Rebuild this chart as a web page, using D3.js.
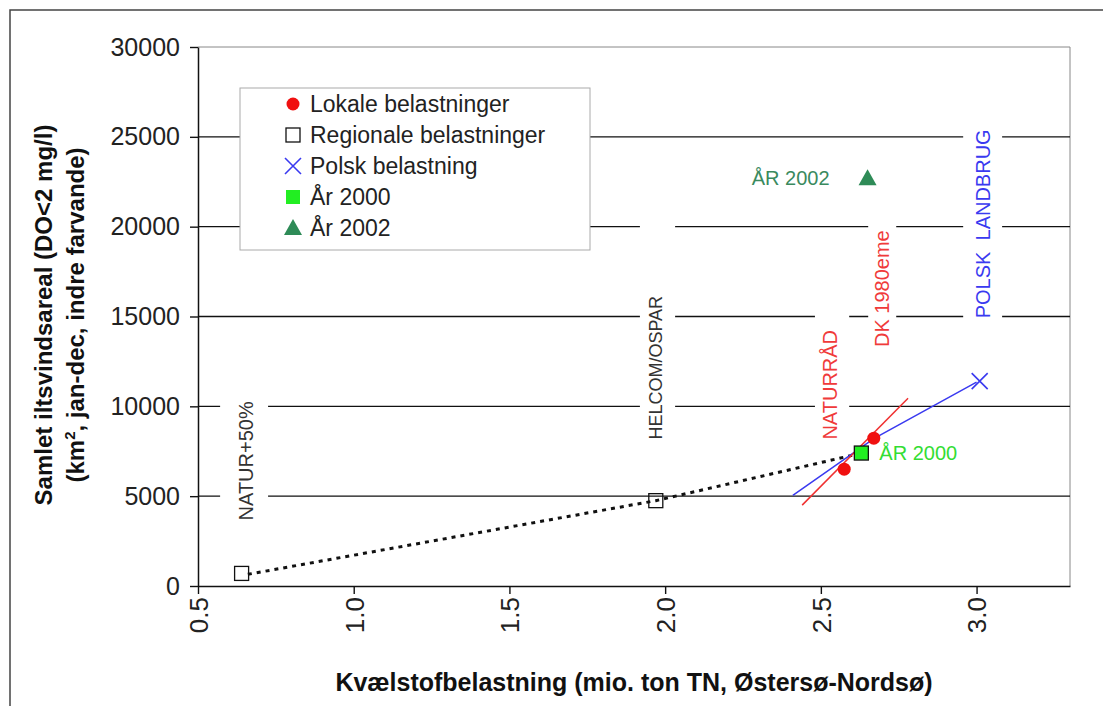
<!DOCTYPE html>
<html>
<head>
<meta charset="utf-8">
<script src="https://cdn.jsdelivr.net/npm/d3@7"></script>
<style>
  body { margin: 0; background: #fff; }
  text { font-family: Arial, "Liberation Sans", sans-serif; }
</style>
</head>
<body>
<div class="chart-container"></div>
<script>
// Chart data
var xTicks = [0.5, 1.0, 1.5, 2.0, 2.5, 3.0];
var yTicks = [0, 5000, 10000, 15000, 20000, 25000, 30000];
var gridValues = [5000, 10000, 15000, 20000, 25000];

var lokaleX = [2.575, 2.67];
var lokaleY = [6500, 8230];
var lokaleLineX = [2.44, 2.78];
var lokaleLineY = [4500, 10450];

var regionalX = [0.64, 1.97];
var regionalY = [700, 4750];
var regionalLineX = [0.66, 1.97, 2.62];
var regionalLineY = [650, 4750, 7350];

var polskX = [3.01];
var polskY = [11400];
var polskLineX = [2.41, 2.67, 3.0];
var polskLineY = [5050, 8200, 11350];

var aar2000X = [2.63];
var aar2000Y = [7400];
var aar2002X = [2.65];
var aar2002Y = [22700];

var legendLabels = ["Lokale belastninger", "Regionale belastninger", "Polsk belastning", "År 2000", "År 2002"];

// Vertical labels with white boxes (data coordinates)
var noteTexts = ["NATUR+50%", "HELCOM/OSPAR", "NATURRÅD", "DK 1980eme", "POLSK  LANDBRUG"];
var noteX = [0.655, 1.968, 2.53, 2.697, 3.021];
var noteY = [3650, 8150, 8150, 13300, 14900];
var boxX0 = [0.571, 1.919, 2.481, 2.652, 2.957];
var boxX1 = [0.725, 2.032, 2.591, 2.742, 3.082];
var boxY0 = [3100, 7600, 7600, 12600, 14250];
var boxY1 = [10800, 21500, 15900, 20900, 26200];
var noteColors = ["#333333", "#333333", "#f03a3a", "#f03a3a", "#3a3af0"];

// Dimensions
var width = 1103;
var height = 706;
var plot = { left: 198, top: 47, right: 1070, bottom: 586 };

var svg = d3.select(".chart-container")
  .append("svg")
  .attr("width", width)
  .attr("height", height);

// Outer frame
svg.append("path")
  .attr("d", "M10," + height + "V10H" + width)
  .attr("fill", "none")
  .attr("stroke", "#444")
  .attr("stroke-width", 1.5);

// Scales
var x = d3.scaleLinear().domain([0.5, 3.3]).range([plot.left, plot.right]);
var y = d3.scaleLinear().domain([0, 30000]).range([plot.bottom, plot.top]);

// Plot border (top and right)
svg.append("path")
  .attr("d", "M" + plot.left + "," + plot.top + "H" + plot.right + "V" + plot.bottom)
  .attr("fill", "none")
  .attr("stroke", "#888")
  .attr("stroke-width", 1);

// Gridlines
svg.selectAll(".grid")
  .data(gridValues)
  .enter().append("line")
  .attr("class", "grid")
  .attr("x1", plot.left)
  .attr("x2", plot.right)
  .attr("y1", function (d) { return y(d); })
  .attr("y2", function (d) { return y(d); })
  .attr("stroke", "#111")
  .attr("stroke-width", 1.4);

// Note boxes and vertical texts
var notes = noteTexts.map(function (t, i) { return { text: t, i: i }; });

svg.selectAll(".notebox")
  .data(notes)
  .enter().append("rect")
  .attr("class", "notebox")
  .attr("x", function (d) { return x(boxX0[d.i]); })
  .attr("width", function (d) { return x(boxX1[d.i]) - x(boxX0[d.i]); })
  .attr("y", function (d) { return y(boxY1[d.i]); })
  .attr("height", function (d) { return y(boxY0[d.i]) - y(boxY1[d.i]); })
  .attr("fill", "#fff");

svg.selectAll(".note")
  .data(notes)
  .enter().append("text")
  .attr("class", "note")
  .attr("transform", function (d) { return "translate(" + x(noteX[d.i]) + "," + y(noteY[d.i]) + ") rotate(-90)"; })
  .attr("dy", "0.36em")
  .attr("text-anchor", "start")
  .style("font-size", function (d) { return d.i === 1 ? "18px" : "20px"; })
  .style("fill", function (d) { return noteColors[d.i]; })
  .style("white-space", "pre")
  .text(function (d) { return d.text; });

// Y axis
var yAxis = svg.append("g")
  .attr("transform", "translate(" + plot.left + ",0)")
  .call(d3.axisLeft(y).tickValues(yTicks).tickFormat(d3.format("d")).tickSize(8).tickSizeOuter(0).tickPadding(10));
yAxis.select(".domain").attr("stroke", "#111").attr("stroke-width", 1.5);
yAxis.selectAll(".tick line").attr("stroke", "#111").attr("stroke-width", 1.4);
yAxis.selectAll("text")
  .style("font-size", "25px")
  .style("font-family", "Arial, 'Liberation Sans', sans-serif")
  .attr("fill", "#222");

// X axis
var xAxis = svg.append("g")
  .attr("transform", "translate(0," + plot.bottom + ")")
  .call(d3.axisBottom(x).tickValues(xTicks).tickFormat(d3.format(".1f")).tickSize(8).tickSizeOuter(0));
xAxis.select(".domain").attr("stroke", "#111").attr("stroke-width", 1.5);
xAxis.selectAll(".tick line").attr("stroke", "#111").attr("stroke-width", 1.4);
xAxis.selectAll("text")
  .attr("transform", "rotate(-90)")
  .attr("x", -11)
  .attr("y", 0)
  .attr("dy", "0.36em")
  .attr("text-anchor", "end")
  .style("font-size", "26px")
  .style("font-family", "Arial, 'Liberation Sans', sans-serif")
  .attr("fill", "#222");

// Axis titles
svg.append("text")
  .attr("x", 634)
  .attr("y", 691)
  .attr("text-anchor", "middle")
  .style("font-size", "25px")
  .style("font-weight", "bold")
  .attr("fill", "#111")
  .text("Kvælstofbelastning (mio. ton TN, Østersø-Nordsø)");

var yTitle = svg.append("text")
  .attr("transform", "translate(52,315) rotate(-90)")
  .attr("text-anchor", "middle")
  .style("font-size", "24px")
  .style("font-weight", "bold")
  .attr("fill", "#111");
yTitle.append("tspan")
  .attr("x", 0)
  .attr("y", 0)
  .text("Samlet iltsvindsareal (DO<2 mg/l)");
var line2 = yTitle.append("tspan")
  .attr("x", 0)
  .attr("y", 32)
  .text("(km");
line2.append("tspan").attr("dy", -9).style("font-size", "15px").text("2");
line2.append("tspan").attr("dy", 9).text(", jan-dec, indre farvande)");

// Legend
var legendG = svg.append("g").attr("transform", "translate(240,88)");
legendG.append("rect")
  .attr("width", 350)
  .attr("height", 162)
  .attr("fill", "#fff")
  .attr("stroke", "#aaa")
  .attr("stroke-width", 1);

// Marker helpers
function drawCircle(g, cx, cy) {
  g.append("circle").attr("cx", cx).attr("cy", cy).attr("r", 6.5).attr("fill", "#f01010");
}
function drawSquare(g, cx, cy, fill, stroke) {
  g.append("rect").attr("x", cx - 7).attr("y", cy - 7).attr("width", 14).attr("height", 14)
    .attr("fill", fill).attr("stroke", stroke).attr("stroke-width", 1.3);
}
function drawCross(g, cx, cy) {
  g.append("path")
    .attr("d", "M" + (cx - 8) + "," + (cy - 8) + "L" + (cx + 8) + "," + (cy + 8) +
      "M" + (cx - 8) + "," + (cy + 8) + "L" + (cx + 8) + "," + (cy - 8))
    .attr("stroke", "#3a3af0").attr("stroke-width", 1.6).attr("fill", "none");
}
function drawTriangle(g, cx, cy) {
  g.append("path")
    .attr("d", "M" + cx + "," + (cy - 9) + "L" + (cx + 9) + "," + (cy + 7) + "L" + (cx - 9) + "," + (cy + 7) + "Z")
    .attr("fill", "#2e8b57");
}

legendLabels.forEach(function (label, i) {
  var cy = 16 + i * 31;
  if (i === 0) drawCircle(legendG, 53, cy);
  if (i === 1) drawSquare(legendG, 53, cy, "#fff", "#111");
  if (i === 2) drawCross(legendG, 53, cy);
  if (i === 3) drawSquare(legendG, 53, cy, "#22ee22", "none");
  if (i === 4) drawTriangle(legendG, 53, cy);
  legendG.append("text")
    .attr("x", 70)
    .attr("y", cy)
    .attr("dy", "0.36em")
    .style("font-size", "23px")
    .attr("fill", "#222")
    .text(label);
});

// Series lines
var line = d3.line()
  .x(function (d) { return x(d[0]); })
  .y(function (d) { return y(d[1]); });

svg.append("path")
  .datum(regionalLineX.map(function (v, i) { return [v, regionalLineY[i]]; }))
  .attr("d", line)
  .attr("fill", "none")
  .attr("stroke", "#111")
  .attr("stroke-width", 3)
  .attr("stroke-dasharray", "4,5");

svg.append("path")
  .datum(polskLineX.map(function (v, i) { return [v, polskLineY[i]]; }))
  .attr("d", line)
  .attr("fill", "none")
  .attr("stroke", "#3a3af0")
  .attr("stroke-width", 1.5);

svg.append("path")
  .datum(lokaleLineX.map(function (v, i) { return [v, lokaleLineY[i]]; }))
  .attr("d", line)
  .attr("fill", "none")
  .attr("stroke", "#f03030")
  .attr("stroke-width", 1.5);

// Series markers
var plotG = svg.append("g");
regionalX.forEach(function (v, i) { drawSquare(plotG, x(v), y(regionalY[i]), "none", "#111"); });
aar2000X.forEach(function (v, i) { drawSquare(plotG, x(v), y(aar2000Y[i]), "#22ee22", "#111"); });
lokaleX.forEach(function (v, i) { drawCircle(plotG, x(v), y(lokaleY[i])); });
polskX.forEach(function (v, i) { drawCross(plotG, x(v), y(polskY[i])); });
aar2002X.forEach(function (v, i) { drawTriangle(plotG, x(v), y(aar2002Y[i])); });

// Year labels
svg.append("text")
  .attr("x", x(aar2002X[0]) - 38)
  .attr("y", y(aar2002Y[0]))
  .attr("dy", "0.36em")
  .attr("text-anchor", "end")
  .style("font-size", "20px")
  .attr("fill", "#3a8a5e")
  .text("ÅR 2002");

svg.append("text")
  .attr("x", x(aar2000X[0]) + 18)
  .attr("y", y(aar2000Y[0]))
  .attr("dy", "0.36em")
  .attr("text-anchor", "start")
  .style("font-size", "20px")
  .attr("fill", "#33dd33")
  .text("ÅR 2000");
</script>
</body>
</html>
